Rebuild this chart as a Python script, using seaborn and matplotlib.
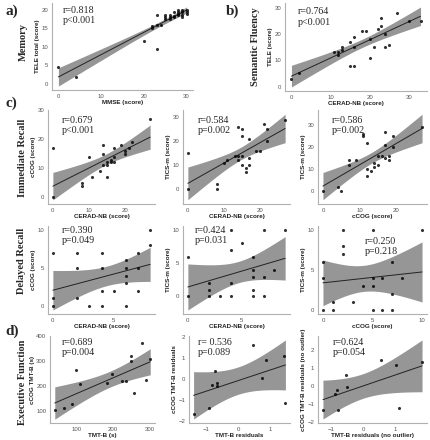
"""
Correlation panels: telephone / remote tests vs. in-person tests
"""

import math
import numpy as np
import pandas as pd
import matplotlib
matplotlib.use("Agg")
import matplotlib.pyplot as plt
import seaborn as sns

# a) Memory
mem_mmse = [0, 4, 20, 23, 23, 22, 22, 23, 24, 25, 25, 25, 26, 26, 26, 27, 27, 27,
            28, 28, 28, 28, 29, 29, 29, 29, 30, 30, 30]
mem_tele = [4.5, 2, 11.5, 18.5, 9.5, 15, 15.5, 16, 16, 18.5, 17.5, 18, 18, 18.5, 17.5,
            18.3, 19.5, 18, 20, 19, 18.5, 19.5, 20, 19.5, 18.5, 18, 20, 19, 19.5]

# b) Semantic fluency
sf_cerad = [0, 2, 11, 12, 12, 13, 13, 15, 16, 16, 15, 16, 18, 19, 20, 20, 21, 22, 23,
            23, 24, 24, 25, 27, 30, 33]
sf_tele = [3, 5, 13, 13, 12, 14, 15, 17, 19, 15, 8, 8, 21, 21, 18, 11, 15, 22, 26,
           23, 20, 15, 16, 28, 25, 25]

# c) Immediate recall
ir1_cerad = [0, 0, 8, 8, 10, 11, 13, 14, 14, 14, 15, 15, 15, 16, 16, 17, 17, 17, 19,
             20, 20, 21, 22, 27]
ir1_ccog = [0, 17, 5, 4, 14, 7, 9, 18, 15, 11, 11, 7, 12, 12, 13, 17, 14, 12, 18,
            16, 15, 17, 19, 27]

ir2_cerad = [0, 0, 8, 8, 10, 11, 13, 14, 14, 14, 15, 15, 15, 15, 16, 16, 17, 17, 17,
             19, 20, 21, 22, 22, 27]
ir2_tics = [0, 15, 2, 0, 11, 12, 14, 26, 14, 12, 25, 22, 14, 10, 9, 7, 21, 13, 10,
            16, 16, 27, 25, 20, 29]

ir3_ccog = [0, 4, 5, 7, 7, 9, 11, 11, 12, 12, 12, 13, 14, 14, 15, 15, 16, 17, 17, 17,
            18, 18, 19, 19, 27]
ir3_tics = [0, 2, 0, 14, 12, 14, 26, 25, 22, 10, 7, 9, 13, 11, 16, 12, 16, 27, 21, 15,
            16, 14, 25, 20, 29]

# Delayed recall
dr1_cerad = [0, 0, 0, 2, 2, 2, 3, 4, 4, 4, 4, 5, 6, 6, 6, 6, 6, 7, 7, 7, 8, 8]
dr1_ccog = [0, 1, 7, 1, 5, 7, 0, 0, 2, 5, 7, 2, 0, 3, 4, 5, 6, 2, 5, 7, 8, 10]

dr2_cerad = [0, 0, 2, 2, 2, 3, 4, 4, 4, 4, 5, 6, 6, 6, 6, 6, 7, 7, 7, 8, 9]
dr2_tics = [0, 6, 0, 1, 2, 0, 0, 2, 7, 10, 8, 0, 1, 3, 4, 6, 0, 3, 10, 4, 10]

dr3_ccog = [0, 0, 0, 1, 1, 2, 2, 2, 3, 4, 5, 5, 5, 5, 6, 6, 7, 7, 7, 8, 10]
dr3_tics = [0, 4, 6, 0, 1, 7, 8, 10, 1, 3, 0, 3, 4, 10, 0, 4, 0, 2, 6, 4, 10]

# d) Executive function
ef1_tmtb = [41, 65, 88, 100, 110, 183, 196, 224, 235, 248, 249, 258, 279, 290, 301]
ef1_ccog = [104, 114, 129, 264, 207, 211, 250, 219, 221, 321, 300, 171, 371, 224, 310]

ef2_tmtb = [-1.4, -0.91, -0.82, -0.72, -0.65, -0.65, 0.46, 0.75, 0.88, 1.43, 1.49]
ef2_ccog = [-1.68, -1.40, -0.30, 0.37, -0.18, -0.36, 1.61, 0.04, 0.91, 1.09, -1.15]

ef3_tmtb = [-1.27, -0.90, -0.84, -0.79, -0.56, -0.50, 0.56, 1.03, 1.11, 1.85]
ef3_ccog = [-1.34, -0.48, -0.26, -1.34, 0.57, -0.09, 1.41, 1.12, -1.21, 1.33]

SANS = "Liberation Sans"
SERIF = "Liberation Serif"
GREY_AXIS = "#b0b0b0"
BAND = "#969696"


def box(left, top, right, bottom):
    # pixel box -> figure fraction
    return [left / 430, 1 - bottom / 440, (right - left) / 430, (bottom - top) / 440]


def t_crit(df, level=0.975):
    # two-sided t critical value without scipy (numeric cdf of the t pdf)
    c = math.gamma((df + 1) / 2) / (math.sqrt(df * math.pi) * math.gamma(df / 2))
    t = np.linspace(0, 20, 40001)
    pdf = c * (1 + t ** 2 / df) ** (-(df + 1) / 2)
    cdf = 0.5 + np.concatenate([[0], np.cumsum((pdf[1:] + pdf[:-1]) / 2 * np.diff(t))])
    return float(np.interp(level, cdf, t))


def lm_band(x, y):
    # linear fit + 95% confidence band, like ggplot's geom_smooth(method="lm")
    x = np.asarray(x, float)
    y = np.asarray(y, float)
    n = len(x)
    slope, icpt = np.polyfit(x, y, 1)
    resid = y - (slope * x + icpt)
    s = np.sqrt(np.sum(resid ** 2) / (n - 2))
    sxx = np.sum((x - x.mean()) ** 2)
    grid = np.linspace(x.min(), x.max(), 120)
    fit = slope * grid + icpt
    half = t_crit(n - 2) * s * np.sqrt(1 / n + (grid - x.mean()) ** 2 / sxx)
    return grid, fit, fit - half, fit + half


def panel(fig, rect, x, y, xlabel, ylabel, xticks, yticks, stat, tx, ty):
    ax = fig.add_axes(rect)
    df = pd.DataFrame({"x": x, "y": y})
    grid, fit, lo, hi = lm_band(x, y)
    ax.fill_between(grid, lo, hi, color=BAND, lw=0, zorder=1)
    sns.regplot(data=df, x="x", y="y", ax=ax, ci=None,
                scatter_kws=dict(s=5, color="black", linewidths=0, zorder=3),
                line_kws=dict(color="#222222", lw=0.7, zorder=2.5))
    ax.set_xticks(xticks)
    ax.set_yticks(yticks)
    ax.set_xlabel(xlabel, fontsize=4.5, fontweight="bold", family=SANS, labelpad=0.8,
                  color="#222222")
    ax.set_ylabel(ylabel, fontsize=4.5, fontweight="bold", family=SANS, labelpad=1.2,
                  color="#222222")
    ax.tick_params(length=1.6, width=0.5, color=GREY_AXIS, labelsize=4.3,
                   labelcolor="#555555", pad=1)
    for lab in ax.get_xticklabels() + ax.get_yticklabels():
        lab.set_family(SANS)
    sns.despine(ax=ax)
    for side in ("left", "bottom"):
        ax.spines[side].set_color(GREY_AXIS)
        ax.spines[side].set_linewidth(0.8)
    ax.text(tx, ty, stat, transform=ax.transAxes, ha="left", va="top",
            fontsize=7.2, family=SERIF, linespacing=1.2)
    return ax


sns.set_theme(style="white")
plt.rcParams["font.family"] = [SERIF, "DejaVu Serif"]

fig = plt.figure(figsize=(4.3, 4.4), dpi=100)

# row a / b
panel(fig, box(52, 3, 193, 90), mem_mmse, mem_tele, "MMSE (score)", "TELE total (score)",
      [0, 10, 20, 30], [0, 5, 10, 15, 20], "r=0.818\np<0.001", 0.08, 0.97)
panel(fig, box(285, 3, 427, 91), sf_cerad, sf_tele, "CERAD-NB (score)", "TELE (score)",
      [0, 10, 20, 30], [0, 10, 20, 30], "r=0.764\np<0.001", 0.09, 0.95)

# row c: immediate recall
panel(fig, box(48, 110, 155, 204), ir1_cerad, ir1_ccog, "CERAD-NB (score)", "cCOG (score)",
      [0, 10, 20], [0, 10, 20, 30], "r=0.679\np<0.001", 0.13, 0.94)
panel(fig, box(183, 110, 290, 204), ir2_cerad, ir2_tics, "CERAD-NB (score)", "TICS-m (score)",
      [0, 10, 20], [0, 10, 20, 30], "r=0.584\np=0.002", 0.14, 0.94)
panel(fig, box(318, 110, 427, 204), ir3_ccog, ir3_tics, "cCOG (score)", "TICS-m (score)",
      [0, 10, 20], [0, 10, 20, 30], "r=0.586\np=0.002", 0.13, 0.94)

# delayed recall
panel(fig, box(48, 226, 155, 314), dr1_cerad, dr1_ccog, "CERAD-NB (score)", "cCOG (score)",
      [0, 5], [0, 5, 10], "r=0.390\np=0.049", 0.13, 1.0)
panel(fig, box(183, 226, 290, 314), dr2_cerad, dr2_tics, "CERAD-NB (score)", "TICS-m (score)",
      [0, 5], [0, 5, 10], "r=0.424\np=0.031", 0.11, 1.0)
panel(fig, box(318, 226, 427, 314), dr3_ccog, dr3_tics, "cCOG (score)", "TICS-m (score)",
      [0, 5, 10], [0, 5, 10], "r=0.250\np=0.218", 0.43, 0.88)

# d) executive function
panel(fig, box(50, 336, 155, 423), ef1_tmtb, ef1_ccog, "TMT-B (s)", "cCOG TMT-B (s)",
      [100, 200, 300], [100, 200, 300, 400], "r=0.689\np=0.004", 0.11, 0.98)
panel(fig, box(189, 336, 290, 423), ef2_tmtb, ef2_ccog, "TMT-B residuals",
      "cCOG TMT-B residuals", [-1, 0, 1], [-2, -1, 0, 1, 2], "r= 0.536\np=0.089",
      0.09, 0.98)
panel(fig, box(318, 336, 427, 423), ef3_tmtb, ef3_ccog, "TMT-B residuals (no outlier)",
      "cCOG TMT-B residuals (no outlier)", [-1, 0, 1], [-2, -1, 0, 1, 2],
      "r=0.624\np=0.054", 0.14, 0.98)

# panel letters and row titles
for txt, x, y in [("a)", 5, 11), ("b)", 226, 11), ("c)", 5, 103), ("d)", 5, 331)]:
    fig.text(x / 430, 1 - y / 440, txt, ha="left", va="center", fontsize=11,
             fontweight="bold", family=SERIF)

for txt, x, y in [("Memory", 23, 42), ("Semantic Fluency", 255, 47),
                  ("Immediate Recall", 23, 158), ("Delayed Recall", 22, 261),
                  ("Executive Function", 23, 382)]:
    fig.text(x / 430, 1 - y / 440, txt, rotation=90, ha="center", va="center",
             fontsize=7.5, fontweight="bold", family=SERIF)

fig.savefig("out.png", dpi=100)
print("saved out.png")
